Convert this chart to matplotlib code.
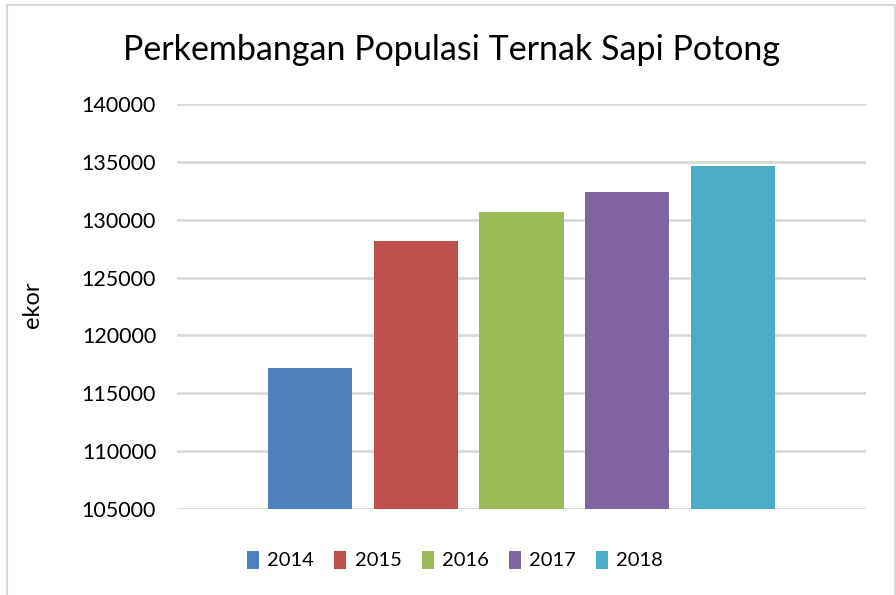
import matplotlib.pyplot as plt
from matplotlib.patches import Rectangle, Patch

plt.rcParams['font.family'] = ['Lato', 'DejaVu Sans']

# data
years = ['2014', '2015', '2016', '2017', '2018']
populasi = [117200, 128150, 130650, 132400, 134650]
colors = ['#4f81bd', '#c0504d', '#9bbb59', '#8064a2', '#4bacc6']
yticks = [105000, 110000, 115000, 120000, 125000, 130000, 135000, 140000]

W, H = 896, 595
fig = plt.figure(figsize=(W / 100, H / 100), dpi=100)

# chart border
fig.patches.append(Rectangle((7 / W, -0.05), (895 - 7) / W, 1.05 - 5 / H,
                             transform=fig.transFigure, fill=False,
                             edgecolor='#d9d9d9', linewidth=1.5))

ax = fig.add_axes([177 / W, 1 - 509 / H, (866 - 177) / W, (509 - 104) / H])
x = range(len(years))
ax.bar(x, populasi, width=0.795, color=colors, zorder=3)

ax.set_ylim(105000, 140000)
ax.set_xlim(-1.258, 5.258)
ax.set_yticks(yticks)
ax.set_yticklabels([str(v) for v in yticks], fontsize=15.5)
ax.set_xticks([])
ax.tick_params(axis='y', length=0, pad=15)
ax.grid(axis='y', color='#d9d9d9', linewidth=2, zorder=0)
for s in ax.spines.values():
    s.set_visible(False)

fig.text(32 / W, 1 - 305 / H, 'ekor', rotation=90, fontsize=17,
         ha='center', va='center')

fig.text(451 / W, 1 - 50 / H, 'Perkembangan Populasi Ternak Sapi Potong',
         fontsize=24.5, ha='center', va='center')

handles = [Patch(facecolor=c) for c in colors]
fig.legend(handles, years, loc='center', bbox_to_anchor=(455 / W, 1 - 560 / H),
           ncol=5, frameon=False, fontsize=14.5, handlelength=0.6,
           handleheight=1.0, handletextpad=0.4, columnspacing=1.0)

fig.savefig('out.png', dpi=100)
